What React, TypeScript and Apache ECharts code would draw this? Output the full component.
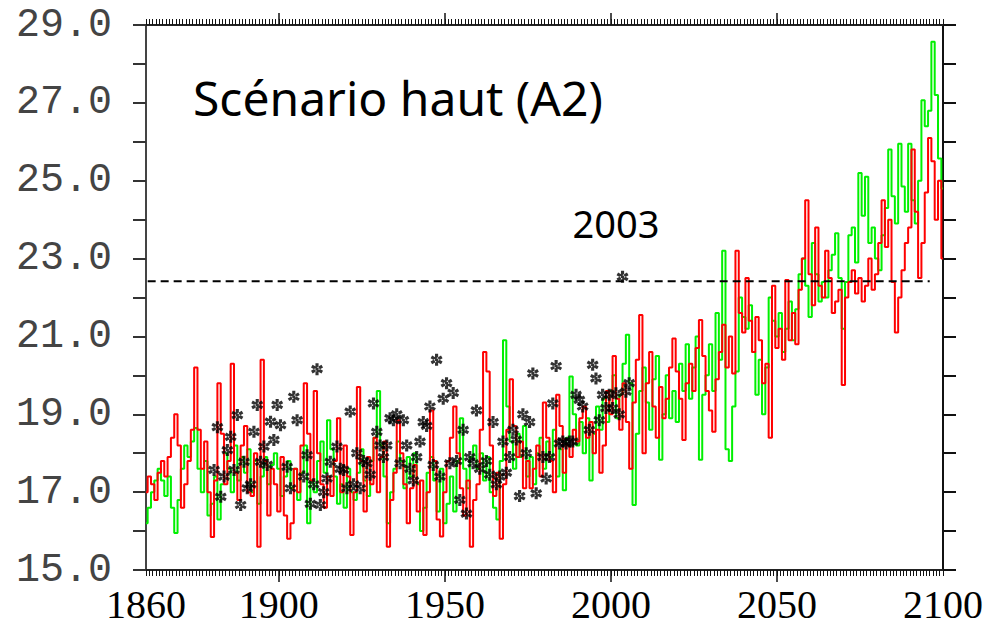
import React, { useEffect, useRef } from "react";
import * as echarts from "echarts";

// ---------- DATA ----------
const startYear = 1860;
const endYear = 2100;

// Simulated summer temperature, model run 1 (red), one value per year 1860..2100
const redValues = [
  // 1860
  17.0, 17.4, 17.2, 16.8, 17.5, 17.8, 17.4, 17.9, 18.4, 19.0,
  // 1870
  18.2, 16.6, 17.2, 17.8, 18.6, 20.2, 18.6, 17.6, 18.3, 17.0,
  // 1880
  15.85, 17.3, 19.8, 18.5, 17.2, 17.8, 20.3, 17.5, 16.8, 18.2,
  // 1890
  18.7, 17.0, 16.9, 18.0, 15.6, 20.4, 17.8, 16.4, 17.6, 17.2,
  // 1900
  16.5, 17.9, 16.4, 15.8, 16.2, 17.6, 17.0, 18.2, 19.8, 18.5,
  // 1910
  17.3, 19.6, 18.0, 17.2, 16.6, 17.4, 16.9, 17.8, 18.9, 17.0,
  // 1920
  18.2, 17.4, 15.9, 17.0, 19.7, 17.8, 16.5, 17.9, 17.2, 18.4,
  // 1930
  17.0, 17.9, 18.3, 15.6, 16.8, 17.5, 18.85, 18.0, 17.2, 16.2,
  // 1940
  17.1, 17.7, 16.5, 17.3, 15.9, 17.0, 19.1, 17.8, 16.3, 15.86,
  // 1950
  17.0, 17.8, 18.4, 19.2, 18.0, 17.1, 16.4, 17.3, 15.6, 16.8,
  // 1960
  17.2, 18.6, 20.6, 20.1, 18.2, 16.9, 17.5, 15.8, 17.2, 18.6,
  // 1970
  19.9, 18.7, 17.9, 18.3, 17.1, 17.8, 17.1, 17.6, 18.2, 17.4,
  // 1980
  19.3, 18.4, 17.8, 17.0, 19.5, 18.7, 17.5, 18.2, 17.9, 18.6,
  // 1990
  18.3, 18.9, 19.2, 18.4, 18.8, 18.0, 18.6, 17.5, 18.2, 19.6,
  // 2000
  19.0, 20.5, 19.4, 18.6, 19.8, 18.8, 17.6, 19.3, 20.4, 21.55,
  // 2010
  18.0, 19.8, 20.6, 19.2, 18.4, 19.7, 18.9, 19.4, 20.2, 20.95,
  // 2020
  20.1, 19.4, 18.34, 19.8, 20.3, 19.6, 20.7, 21.42, 20.5, 19.6,
  // 2030
  19.1, 18.55, 19.9, 20.6, 21.3, 20.2, 21.0, 20.05, 23.2, 21.6,
  // 2040
  21.1, 22.5, 21.4, 20.6, 21.5, 20.9, 19.8, 20.3, 18.4, 22.3,
  // 2050
  20.7, 21.2, 20.4, 22.45, 20.9, 21.6, 20.8, 22.2, 23.0, 24.5,
  // 2060
  22.6, 21.8, 23.8, 22.3, 22.0, 23.2, 22.5, 21.6, 21.9, 22.2,
  // 2070
  19.75, 22.0, 22.4, 22.7, 22.1, 22.5, 21.9, 22.3, 23.0, 22.2,
  // 2080
  22.6, 23.4, 24.5, 23.3, 24.0, 22.4, 21.1, 22.0, 22.7, 23.4,
  // 2090
  23.8, 25.8, 24.2, 22.5, 23.4, 24.7, 26.1, 25.5, 24.0, 25.0,
  // 2100
  23.0,
];

// Simulated summer temperature, model run 2 (green)
const greenValues = [
  // 1860
  16.2, 16.6, 17.0, 17.3, 17.6, 17.3, 16.9, 17.4, 16.6, 15.95,
  // 1870
  16.8, 17.6, 18.2, 17.9, 18.3, 18.65, 17.6, 17.0, 17.8, 16.4,
  // 1880
  16.7, 17.4, 16.3, 17.2, 18.0, 17.6, 17.0, 18.2, 17.3, 17.9,
  // 1890
  17.5, 18.1, 17.0, 17.8, 16.7, 17.4, 17.9, 17.2, 17.7, 18.0,
  // 1900
  17.6, 16.9, 17.4, 17.8, 17.1, 17.6, 16.8, 17.5, 18.2, 16.2,
  // 1910
  17.3, 17.0, 17.8, 18.3, 17.5, 18.85, 18.1, 17.4, 16.7, 17.2,
  // 1920
  16.6, 17.6, 17.0, 16.8, 17.5, 18.1, 17.3, 16.9, 17.8, 18.4,
  // 1930
  19.6, 18.2, 17.4, 16.2, 17.0, 17.6, 18.3, 17.8, 17.1, 17.9,
  // 1940
  17.4, 18.0, 17.2, 16.0, 16.6, 17.5, 17.9, 17.3, 16.5, 17.6,
  // 1950
  16.2, 16.7, 17.4, 16.5, 17.8, 18.9, 17.6, 17.1, 17.9, 18.2,
  // 1960
  17.6, 18.0, 17.3, 17.9, 17.0, 16.6, 16.3, 17.8, 20.9, 19.2,
  // 1970
  18.3, 17.6, 18.5, 17.9, 18.7, 17.4, 17.9, 17.2, 18.0, 18.4,
  // 1980
  17.6, 18.3, 17.9, 18.6, 17.4, 18.1, 17.05, 18.4, 19.97, 19.0,
  // 1990
  18.2, 18.8, 18.0, 18.9, 17.3, 18.5, 19.2, 18.6, 19.4, 18.8,
  // 2000
  19.6, 20.0, 18.9, 19.5, 20.3, 21.04, 19.8, 16.67, 18.5, 19.6,
  // 2010
  20.2, 19.3, 18.6, 19.9, 20.5, 17.83, 19.0, 20.0, 18.9, 19.6,
  // 2020
  18.8, 20.3, 19.6, 20.8, 19.4, 20.2, 21.0, 17.83, 19.5, 20.0,
  // 2030
  20.8, 19.6, 21.6, 20.4, 23.2, 18.1, 17.8, 19.2, 20.1, 22.0,
  // 2040
  21.5, 21.2, 21.8, 20.6, 19.5, 20.4, 19.0, 20.2, 22.0, 21.4,
  // 2050
  21.0, 21.6, 20.6, 21.2, 21.9, 20.9, 21.7, 22.6, 23.0, 22.3,
  // 2060
  21.5, 23.4, 22.6, 21.9, 22.4, 22.0, 22.7, 23.1, 23.65, 22.5,
  // 2070
  21.2, 22.4, 23.6, 23.8, 22.9, 25.2, 24.1, 25.1, 23.4, 23.8,
  // 2080
  23.0, 22.7, 23.6, 24.3, 25.8, 24.6, 23.9, 25.95, 24.85, 24.2,
  // 2090
  25.95, 24.5, 23.9, 25.0, 27.07, 26.4, 26.8, 28.57, 27.2, 25.57,
  // 2100
  24.8,
];

// Observations (asterisks)
const obsYears = [
  1880, 1881, 1882, 1883, 1884, 1885, 1886, 1887, 1888, 1889,
  1890, 1891, 1892, 1893, 1894, 1895, 1896, 1897, 1898, 1899,
  1900, 1902, 1903, 1904, 1905, 1907, 1908, 1909,
  1910, 1911, 1912, 1913, 1914, 1915, 1917, 1918, 1919,
  1920, 1921, 1922, 1923, 1924, 1925, 1926, 1927, 1928, 1929,
  1930, 1931, 1932, 1933, 1934, 1935, 1936, 1937, 1938, 1939,
  1940, 1941, 1942, 1943, 1944, 1945, 1946, 1947, 1948, 1949,
  1950, 1951, 1952, 1953, 1954, 1955, 1956, 1957, 1958, 1959,
  1960, 1962, 1963, 1964, 1965, 1966, 1967, 1968, 1969,
  1970, 1971, 1972, 1973, 1974, 1975, 1976, 1977, 1979,
  1980, 1981, 1982, 1983, 1984, 1985, 1986, 1987, 1988, 1989,
  1990, 1991, 1993, 1994, 1995, 1996, 1997, 1998, 1999,
  2000, 2001, 2002, 2003, 2004, 2005,
];
const obsValues = [
  17.57, 18.67, 16.88, 17.4, 18.08, 18.42, 17.57, 18.98, 16.67, 17.78,
  17.1, 17.2, 18.55, 19.24, 17.78, 18.17, 17.7, 18.81, 18.34, 19.24,
  18.72, 17.65, 17.1, 19.45, 18.85, 17.4, 17.95, 16.7,
  17.2, 20.16, 16.67, 17.0, 17.35, 17.78, 18.17, 17.6, 17.57,
  17.1, 19.07, 17.2, 18.0, 17.1, 17.8, 17.74, 17.45, 19.28, 18.55,
  18.2, 17.9, 18.2, 18.9, 18.85, 19.0, 17.74, 18.85, 18.2, 17.6,
  17.3, 17.9, 18.3, 18.8, 18.7, 19.2, 17.7, 20.4, 17.4, 19.4,
  19.8, 17.74, 19.55, 17.8, 16.8, 18.6, 16.45, 17.9, 17.74, 19.1,
  17.6, 17.8, 17.45, 18.8, 17.2, 17.4, 18.3, 17.5, 17.9,
  18.6, 18.35, 16.9, 19.0, 18.0, 18.8, 20.05, 16.97, 17.9,
  17.35, 17.9, 19.28, 20.24, 18.25, 18.3, 18.25, 18.3, 18.3, 19.5,
  19.37, 19.2, 18.6, 20.27, 19.92, 18.85, 19.5, 19.16, 19.5,
  19.16, 19.54, 19.0, 22.53, 19.58, 19.8,
];

// 2003 reference level (dashed line)
const level2003 = 22.42;
const levelFrom = 1860.5;
const levelTo = 2096;

const xLabelYears = [1860, 1900, 1950, 2000, 2050, 2100];
const xMajorTicks = [1900, 1950, 2000, 2050];
const yLabelValues = [15, 17, 19, 21, 23, 25, 27, 29];

const titleText = "Scénario haut (A2)";
const markText = "2003";

const years = redValues.map((_, i) => startYear + i);

const asterisk =
  "path://M3.7,0H6.3V10H3.7Z M1.32,1.37L9.98,6.37L8.68,8.63L0.02,3.63Z M1.32,8.63L9.98,3.63L8.68,1.37L0.02,6.37Z";

export default function App() {
  const ref = useRef<HTMLDivElement>(null);

  useEffect(() => {
    if (!ref.current) return;
    const chart = echarts.init(ref.current, null, { renderer: "svg" });

    const commonX = {
      type: "value" as const,
      min: startYear,
      max: endYear,
      splitLine: { show: false },
    };

    const option: any = {
      animation: false,
      backgroundColor: "#fff",
      grid: { left: 146, right: 47, top: 25, bottom: 56, containLabel: false },
      xAxis: [
        {
          ...commonX,
          position: "bottom",
          interval: 1,
          axisLine: { show: true, onZero: false, lineStyle: { color: "#222", width: 2 } },
          axisTick: { show: true, length: 6, lineStyle: { color: "#111", width: 1 } },
          axisLabel: {
            show: true,
            formatter: (v: number) => (xLabelYears.includes(Math.round(v)) ? String(Math.round(v)) : ""),
            fontFamily: "Liberation Serif",
            fontSize: 40,
            lineHeight: 40,
            color: "#000",
            margin: 14,
            showMinLabel: true,
            showMaxLabel: true,
          },
        },
        {
          ...commonX,
          position: "bottom",
          axisLine: { show: false, onZero: false },
          axisTick: { show: true, customValues: xMajorTicks, length: 12, lineStyle: { color: "#111", width: 1.5 } },
          axisLabel: { show: false },
        },
        {
          ...commonX,
          position: "top",
          interval: 1,
          axisLine: { show: true, onZero: false, lineStyle: { color: "#222", width: 2 } },
          axisTick: { show: true, length: 6, lineStyle: { color: "#111", width: 1 } },
          axisLabel: { show: false },
        },
        {
          ...commonX,
          position: "top",
          axisLine: { show: false, onZero: false },
          axisTick: { show: true, customValues: xMajorTicks, length: 12, lineStyle: { color: "#111", width: 1.5 } },
          axisLabel: { show: false },
        },
      ],
      yAxis: [
        {
          type: "value",
          min: 15,
          max: 29,
          interval: 1,
          position: "left",
          splitLine: { show: false },
          axisLine: { show: true, onZero: false, lineStyle: { color: "#444", width: 2 } },
          axisTick: { show: true, length: 13, lineStyle: { color: "#333", width: 2 } },
          axisLabel: {
            formatter: (v: number) => (yLabelValues.includes(Math.round(v)) ? v.toFixed(1) : ""),
            fontFamily: "Liberation Mono",
            fontSize: 40,
            color: "#444",
            margin: 34,
          },
        },
        {
          type: "value",
          min: 15,
          max: 29,
          interval: 1,
          position: "right",
          splitLine: { show: false },
          axisLine: { show: true, onZero: false, lineStyle: { color: "#111", width: 2 } },
          axisTick: { show: true, length: 13, lineStyle: { color: "#111", width: 2 } },
          axisLabel: { show: false },
        },
      ],
      series: [
        {
          name: "green",
          type: "line",
          step: "middle",
          symbol: "none",
          data: years.map((y, i) => [y, greenValues[i]]),
          lineStyle: { color: "#00f000", width: 2 },
          z: 2,
        },
        {
          name: "red",
          type: "line",
          step: "middle",
          symbol: "none",
          data: years.map((y, i) => [y, redValues[i]]),
          lineStyle: { color: "#ff0000", width: 2 },
          z: 3,
        },
        {
          name: "level",
          type: "line",
          symbol: "none",
          data: [
            [levelFrom, level2003],
            [levelTo, level2003],
          ],
          lineStyle: { color: "#000", width: 2, type: [8, 5] },
          z: 4,
        },
        {
          name: "obs",
          type: "scatter",
          symbol: asterisk,
          symbolSize: 12,
          data: obsYears.map((y, i) => [y + 0.5, obsValues[i]]),
          itemStyle: { color: "#000" },
          z: 5,
        },
      ],
      graphic: [
        {
          type: "text",
          x: 193,
          y: 97,
          style: {
            text: titleText,
            fontFamily: "Noto Sans",
            fontSize: 48,
            fill: "#000",
            textVerticalAlign: "middle",
            textAlign: "left",
          },
        },
        {
          type: "text",
          x: 616,
          y: 223,
          style: {
            text: markText,
            fontFamily: "Noto Sans",
            fontSize: 38,
            fill: "#000",
            textVerticalAlign: "middle",
            textAlign: "center",
          },
        },
      ],
    };

    chart.setOption(option);
    return () => chart.dispose();
  }, []);

  return (
    <div
      ref={ref}
      style={{ position: "fixed", left: 0, top: 0, width: 990, height: 626, background: "#fff" }}
    />
  );
}
